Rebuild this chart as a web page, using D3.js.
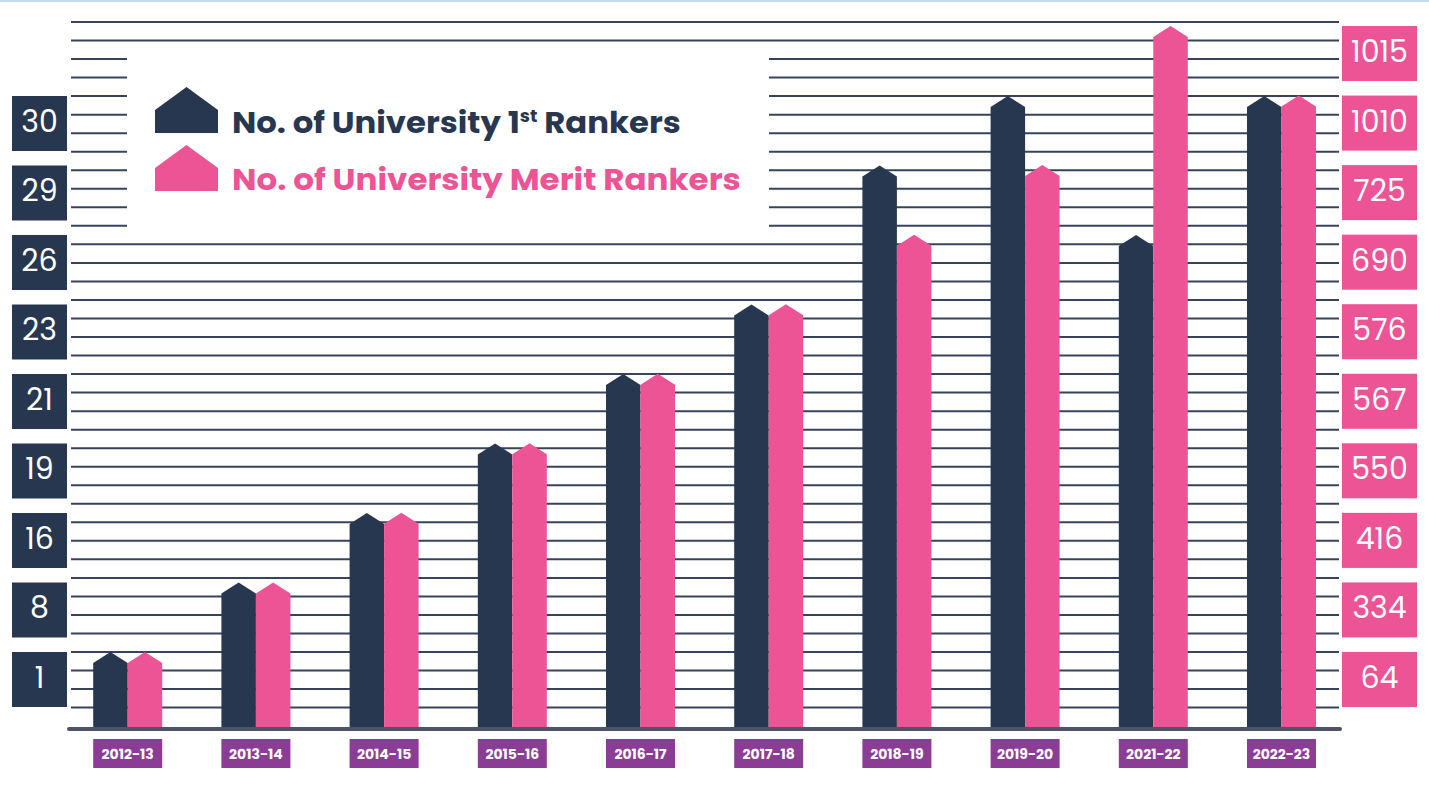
<!DOCTYPE html>
<html>
    <head>
        <script src="https://d3js.org/d3.v7.min.js"></script>
        <style>
        body { margin: 0; background: white; }
        svg { display: block; font-family: Poppins, Lato, "Open Sans", sans-serif; }
        .grid { stroke: #36435a; stroke-width: 2px; }
        .tick-text { fill: white; font-size: 30px; text-anchor: middle; dominant-baseline: central; }
        .year-text { fill: white; font-size: 14px; font-weight: 700; text-anchor: middle; dominant-baseline: central; }
        </style>
    </head>
    <body>
        <svg id="chart" width="1429" height="785"></svg>
        <script>
            // data
            const years = ["2012-13", "2013-14", "2014-15", "2015-16", "2016-17",
                           "2017-18", "2018-19", "2019-20", "2021-22", "2022-23"];
            const firstRankers = [1, 8, 16, 19, 21, 23, 29, 30, 26, 30];
            const meritRankers = [64, 334, 416, 550, 567, 576, 690, 725, 1015, 1010];
            const leftTicks = [30, 29, 26, 23, 21, 19, 16, 8, 1];
            const rightTicks = [1015, 1010, 725, 690, 576, 567, 550, 416, 334, 64];

            const navy = "#283750";
            const pink = "#ed5495";
            const purple = "#8b3d96";

            const svg = d3.select("svg#chart");
            const baseY = 729;

            // top thin blue border
            svg.append("rect")
               .attr("x", 0).attr("y", 0)
               .attr("width", 1429).attr("height", 2)
               .attr("fill", "#c6daee");

            // value scales: every value gets a slot (label box), bar peaks sit at the top of the box
            const yLeft = d3.scaleBand()
                            .domain(leftTicks)
                            .range([96, 707])
                            .paddingInner(0.2086);
            const yRight = d3.scaleBand()
                             .domain(rightTicks)
                             .range([26, 707])
                             .paddingInner(0.2086);

            const x = d3.scaleBand()
                        .domain(years)
                        .range([63.6, 1345.6])
                        .paddingInner(0.4618)
                        .paddingOuter(0.2309);
            const xSub = d3.scaleBand()
                           .domain(["first", "merit"])
                           .range([0, x.bandwidth()]);

            // horizontal rule lines
            const gridStep = 18.53;
            const gridYs = d3.range(38).map(i => 22 + i * gridStep);
            svg.append("g")
               .selectAll("line")
               .data(gridYs)
               .join("line")
               .attr("class", "grid")
               .attr("x1", 71).attr("x2", 1339)
               .attr("y1", d => d).attr("y2", d => d);

            // legend panel hides the lines behind it
            svg.append("rect")
               .attr("x", 127).attr("y", 49)
               .attr("width", 642).attr("height", 186)
               .attr("fill", "white");

            // house shaped bar
            const shoulder = 11;
            const housePath = (x0, w, peak, bottom) =>
                `M${x0},${bottom}L${x0},${peak + shoulder}L${x0 + w / 2},${peak}` +
                `L${x0 + w},${peak + shoulder}L${x0 + w},${bottom}Z`;

            const rows = years.map((y, i) => ({year: y, first: firstRankers[i], merit: meritRankers[i]}));

            const groups = svg.append("g")
               .selectAll("g")
               .data(rows)
               .join("g")
               .attr("transform", d => `translate(${x(d.year)},0)`);

            groups.append("path")
                  .attr("fill", navy)
                  .attr("d", d => housePath(xSub("first"), xSub.bandwidth(), yLeft(d.first), baseY));
            groups.append("path")
                  .attr("fill", pink)
                  .attr("d", d => housePath(xSub("merit"), xSub.bandwidth(), yRight(d.merit), baseY));

            // baseline
            svg.append("line")
               .attr("x1", 69).attr("x2", 1340)
               .attr("y1", baseY).attr("y2", baseY)
               .attr("stroke", "#4e5367")
               .attr("stroke-width", 4)
               .attr("stroke-linecap", "round");

            // year labels
            groups.append("rect")
                  .attr("x", 0).attr("y", 739)
                  .attr("width", x.bandwidth()).attr("height", 29)
                  .attr("fill", purple);
            groups.append("text")
                  .attr("class", "year-text")
                  .attr("x", x.bandwidth() / 2).attr("y", 754)
                  .text(d => d.year);

            // left value boxes
            const left = svg.append("g").selectAll("g")
               .data(leftTicks)
               .join("g")
               .attr("transform", d => `translate(12,${yLeft(d)})`);
            left.append("rect")
                .attr("width", 55).attr("height", yLeft.bandwidth())
                .attr("fill", navy);
            left.append("text")
                .attr("class", "tick-text")
                .attr("x", 27.5).attr("y", yLeft.bandwidth() / 2 - 2)
                .text(d => d);

            // right value boxes
            const right = svg.append("g").selectAll("g")
               .data(rightTicks)
               .join("g")
               .attr("transform", d => `translate(1342,${yRight(d)})`);
            right.append("rect")
                 .attr("width", 75).attr("height", yRight.bandwidth())
                 .attr("fill", pink);
            right.append("text")
                 .attr("class", "tick-text")
                 .attr("x", 37.5).attr("y", yRight.bandwidth() / 2 - 2)
                 .text(d => d);

            // legend
            const legendItems = [
                {color: navy, peak: 87, parts: ["No. of University 1", "st", " Rankers"], width: 449, baseline: 133},
                {color: pink, peak: 145, parts: ["No. of University Merit Rankers"], width: 509, baseline: 190}
            ];
            const legend = svg.append("g");
            legendItems.forEach(item => {
                legend.append("path")
                      .attr("fill", item.color)
                      .attr("d", `M155,${item.peak + 46}L155,${item.peak + 23}L186.5,${item.peak}` +
                                 `L218,${item.peak + 23}L218,${item.peak + 46}Z`);
                const t = legend.append("text")
                      .attr("x", 232).attr("y", item.baseline)
                      .attr("fill", item.color)
                      .attr("font-size", 30)
                      .attr("font-weight", 700);
                if (item.parts.length === 3) {
                    t.append("tspan").text(item.parts[0]);
                    t.append("tspan").attr("font-size", 17).attr("dy", -11).text(item.parts[1]);
                    t.append("tspan").attr("dy", 11).text(item.parts[2]);
                } else {
                    t.text(item.parts[0]);
                }
                const w = t.node().getComputedTextLength();
                t.attr("transform", `translate(232,0) scale(${item.width / w},1) translate(-232,0)`);
            });
        </script>
    </body>
</html>
